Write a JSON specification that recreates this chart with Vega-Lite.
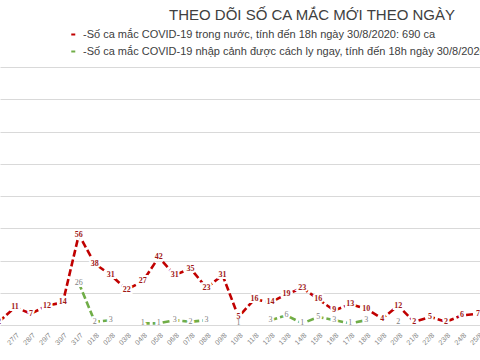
{
  "$schema": "https://vega.github.io/schema/vega-lite/v6.json",
  "width": 480,
  "height": 258,
  "autosize": {"type": "none"},
  "padding": {"left": 0, "top": 67, "right": 0, "bottom": 35},
  "background": "white",
  "title": {
    "text": "THEO DÕI SỐ CA MẮC MỚI THEO NGÀY",
    "anchor": "middle",
    "frame": "group",
    "dx": 72,
    "offset": 6,
    "font": "Liberation Sans",
    "fontSize": 15,
    "fontWeight": "normal",
    "color": "#404040"
  },
  "config": {
    "view": {"stroke": null},
    "font": "Liberation Sans"
  },
  "data": {
    "values": [
      {"date": "2020-07-26", "series": "-Số ca mắc COVID-19 trong nước, tính đến 18h ngày 30/8/2020: 690 ca", "cases": 2},
      {"date": "2020-07-27", "series": "-Số ca mắc COVID-19 trong nước, tính đến 18h ngày 30/8/2020: 690 ca", "cases": 11},
      {"date": "2020-07-28", "series": "-Số ca mắc COVID-19 trong nước, tính đến 18h ngày 30/8/2020: 690 ca", "cases": 7},
      {"date": "2020-07-29", "series": "-Số ca mắc COVID-19 trong nước, tính đến 18h ngày 30/8/2020: 690 ca", "cases": 12},
      {"date": "2020-07-30", "series": "-Số ca mắc COVID-19 trong nước, tính đến 18h ngày 30/8/2020: 690 ca", "cases": 14},
      {"date": "2020-07-31", "series": "-Số ca mắc COVID-19 trong nước, tính đến 18h ngày 30/8/2020: 690 ca", "cases": 56},
      {"date": "2020-08-01", "series": "-Số ca mắc COVID-19 trong nước, tính đến 18h ngày 30/8/2020: 690 ca", "cases": 38},
      {"date": "2020-08-02", "series": "-Số ca mắc COVID-19 trong nước, tính đến 18h ngày 30/8/2020: 690 ca", "cases": 31},
      {"date": "2020-08-03", "series": "-Số ca mắc COVID-19 trong nước, tính đến 18h ngày 30/8/2020: 690 ca", "cases": 22},
      {"date": "2020-08-04", "series": "-Số ca mắc COVID-19 trong nước, tính đến 18h ngày 30/8/2020: 690 ca", "cases": 27},
      {"date": "2020-08-05", "series": "-Số ca mắc COVID-19 trong nước, tính đến 18h ngày 30/8/2020: 690 ca", "cases": 42},
      {"date": "2020-08-06", "series": "-Số ca mắc COVID-19 trong nước, tính đến 18h ngày 30/8/2020: 690 ca", "cases": 31},
      {"date": "2020-08-07", "series": "-Số ca mắc COVID-19 trong nước, tính đến 18h ngày 30/8/2020: 690 ca", "cases": 35},
      {"date": "2020-08-08", "series": "-Số ca mắc COVID-19 trong nước, tính đến 18h ngày 30/8/2020: 690 ca", "cases": 23},
      {"date": "2020-08-09", "series": "-Số ca mắc COVID-19 trong nước, tính đến 18h ngày 30/8/2020: 690 ca", "cases": 31},
      {"date": "2020-08-10", "series": "-Số ca mắc COVID-19 trong nước, tính đến 18h ngày 30/8/2020: 690 ca", "cases": 5},
      {"date": "2020-08-11", "series": "-Số ca mắc COVID-19 trong nước, tính đến 18h ngày 30/8/2020: 690 ca", "cases": 16},
      {"date": "2020-08-12", "series": "-Số ca mắc COVID-19 trong nước, tính đến 18h ngày 30/8/2020: 690 ca", "cases": 14},
      {"date": "2020-08-13", "series": "-Số ca mắc COVID-19 trong nước, tính đến 18h ngày 30/8/2020: 690 ca", "cases": 19},
      {"date": "2020-08-14", "series": "-Số ca mắc COVID-19 trong nước, tính đến 18h ngày 30/8/2020: 690 ca", "cases": 23},
      {"date": "2020-08-15", "series": "-Số ca mắc COVID-19 trong nước, tính đến 18h ngày 30/8/2020: 690 ca", "cases": 16},
      {"date": "2020-08-16", "series": "-Số ca mắc COVID-19 trong nước, tính đến 18h ngày 30/8/2020: 690 ca", "cases": 9},
      {"date": "2020-08-17", "series": "-Số ca mắc COVID-19 trong nước, tính đến 18h ngày 30/8/2020: 690 ca", "cases": 13},
      {"date": "2020-08-18", "series": "-Số ca mắc COVID-19 trong nước, tính đến 18h ngày 30/8/2020: 690 ca", "cases": 10},
      {"date": "2020-08-19", "series": "-Số ca mắc COVID-19 trong nước, tính đến 18h ngày 30/8/2020: 690 ca", "cases": 4},
      {"date": "2020-08-20", "series": "-Số ca mắc COVID-19 trong nước, tính đến 18h ngày 30/8/2020: 690 ca", "cases": 12},
      {"date": "2020-08-21", "series": "-Số ca mắc COVID-19 trong nước, tính đến 18h ngày 30/8/2020: 690 ca", "cases": 2},
      {"date": "2020-08-22", "series": "-Số ca mắc COVID-19 trong nước, tính đến 18h ngày 30/8/2020: 690 ca", "cases": 5},
      {"date": "2020-08-23", "series": "-Số ca mắc COVID-19 trong nước, tính đến 18h ngày 30/8/2020: 690 ca", "cases": 2},
      {"date": "2020-08-24", "series": "-Số ca mắc COVID-19 trong nước, tính đến 18h ngày 30/8/2020: 690 ca", "cases": 6},
      {"date": "2020-08-25", "series": "-Số ca mắc COVID-19 trong nước, tính đến 18h ngày 30/8/2020: 690 ca", "cases": 7},
      {"date": "2020-07-31", "series": "-Số ca mắc COVID-19 nhập cảnh được cách ly ngay, tính đến 18h ngày 30/8/2020", "cases": 26},
      {"date": "2020-08-01", "series": "-Số ca mắc COVID-19 nhập cảnh được cách ly ngay, tính đến 18h ngày 30/8/2020", "cases": 2},
      {"date": "2020-08-02", "series": "-Số ca mắc COVID-19 nhập cảnh được cách ly ngay, tính đến 18h ngày 30/8/2020", "cases": 3},
      {"date": "2020-08-03", "series": "-Số ca mắc COVID-19 nhập cảnh được cách ly ngay, tính đến 18h ngày 30/8/2020", "cases": null},
      {"date": "2020-08-04", "series": "-Số ca mắc COVID-19 nhập cảnh được cách ly ngay, tính đến 18h ngày 30/8/2020", "cases": 1},
      {"date": "2020-08-05", "series": "-Số ca mắc COVID-19 nhập cảnh được cách ly ngay, tính đến 18h ngày 30/8/2020", "cases": 1},
      {"date": "2020-08-06", "series": "-Số ca mắc COVID-19 nhập cảnh được cách ly ngay, tính đến 18h ngày 30/8/2020", "cases": 3},
      {"date": "2020-08-07", "series": "-Số ca mắc COVID-19 nhập cảnh được cách ly ngay, tính đến 18h ngày 30/8/2020", "cases": 2},
      {"date": "2020-08-08", "series": "-Số ca mắc COVID-19 nhập cảnh được cách ly ngay, tính đến 18h ngày 30/8/2020", "cases": 3},
      {"date": "2020-08-09", "series": "-Số ca mắc COVID-19 nhập cảnh được cách ly ngay, tính đến 18h ngày 30/8/2020", "cases": null},
      {"date": "2020-08-10", "series": "-Số ca mắc COVID-19 nhập cảnh được cách ly ngay, tính đến 18h ngày 30/8/2020", "cases": 1},
      {"date": "2020-08-11", "series": "-Số ca mắc COVID-19 nhập cảnh được cách ly ngay, tính đến 18h ngày 30/8/2020", "cases": null},
      {"date": "2020-08-12", "series": "-Số ca mắc COVID-19 nhập cảnh được cách ly ngay, tính đến 18h ngày 30/8/2020", "cases": 3},
      {"date": "2020-08-13", "series": "-Số ca mắc COVID-19 nhập cảnh được cách ly ngay, tính đến 18h ngày 30/8/2020", "cases": 6},
      {"date": "2020-08-14", "series": "-Số ca mắc COVID-19 nhập cảnh được cách ly ngay, tính đến 18h ngày 30/8/2020", "cases": 1},
      {"date": "2020-08-15", "series": "-Số ca mắc COVID-19 nhập cảnh được cách ly ngay, tính đến 18h ngày 30/8/2020", "cases": 5},
      {"date": "2020-08-16", "series": "-Số ca mắc COVID-19 nhập cảnh được cách ly ngay, tính đến 18h ngày 30/8/2020", "cases": 3},
      {"date": "2020-08-17", "series": "-Số ca mắc COVID-19 nhập cảnh được cách ly ngay, tính đến 18h ngày 30/8/2020", "cases": 1},
      {"date": "2020-08-18", "series": "-Số ca mắc COVID-19 nhập cảnh được cách ly ngay, tính đến 18h ngày 30/8/2020", "cases": 3},
      {"date": "2020-08-19", "series": "-Số ca mắc COVID-19 nhập cảnh được cách ly ngay, tính đến 18h ngày 30/8/2020", "cases": null},
      {"date": "2020-08-20", "series": "-Số ca mắc COVID-19 nhập cảnh được cách ly ngay, tính đến 18h ngày 30/8/2020", "cases": 2}
    ]
  },
  "encoding": {
    "x": {
      "field": "date",
      "type": "temporal",
      "scale": {
        "type": "utc",
        "domain": [
          {"year": 2020, "month": 7, "date": 26, "hours": 1, "minutes": 30, "utc": true},
          {"year": 2020, "month": 8, "date": 25, "hours": 3, "utc": true}
        ]
      },
      "axis": {
        "title": null,
        "domain": false,
        "ticks": false,
        "grid": false,
        "tickCount": {"interval": "day", "step": 1},
        "labelExpr": "utcFormat(datum.value, '%d/%-m')",
        "labelAngle": -45,
        "labelFontSize": 7,
        "labelColor": "#7f7f7f",
        "labelPadding": 6,
        "labelOverlap": false,
        "labelFlush": false,
        "labelBound": false
      }
    },
    "y": {
      "field": "cases",
      "type": "quantitative",
      "scale": {"domain": [0, 160], "nice": false, "zero": true},
      "axis": {
        "title": null,
        "domain": false,
        "ticks": false,
        "labels": false,
        "grid": true,
        "gridColor": "#d9d9d9",
        "gridWidth": 1,
        "values": [0, 20, 40, 60, 80, 100, 120, 140, 160]
      }
    }
  },
  "layer": [
    {
      "mark": {"type": "line", "strokeWidth": 2.6, "strokeDash": [7, 3], "invalid": "break-paths-show-domains", "clip": true},
      "encoding": {
        "color": {
          "field": "series",
          "type": "nominal",
          "scale": {
            "domain": [
              "-Số ca mắc COVID-19 trong nước, tính đến 18h ngày 30/8/2020: 690 ca",
              "-Số ca mắc COVID-19 nhập cảnh được cách ly ngay, tính đến 18h ngày 30/8/2020"
            ],
            "range": ["#c00000", "#70ad47"]
          },
          "legend": {
            "title": null,
            "orient": "none",
            "legendX": 68,
            "legendY": -38,
            "symbolType": "stroke",
            "symbolSize": 20,
            "symbolStrokeWidth": 2,
            "symbolDash": [4, 2],
            "labelFontSize": 11,
            "labelColor": "#404040",
            "labelLimit": 1000,
            "labelOffset": 4,
            "rowPadding": 5,
            "padding": 0
          }
        }
      }
    },
    {
      "mark": {"type": "text", "fontSize": 8, "font": "Liberation Serif", "fontWeight": "bold", "stroke": "white", "strokeWidth": 4, "clip": true},
      "encoding": {"text": {"field": "cases", "type": "quantitative"}}
    },
    {
      "transform": [{"filter": "indexof(datum.series, 'trong nước') >= 0"}],
      "mark": {"type": "text", "fontSize": 8, "font": "Liberation Serif", "fontWeight": "bold", "color": "#a01818", "clip": true},
      "encoding": {"text": {"field": "cases", "type": "quantitative"}}
    },
    {
      "transform": [{"filter": "indexof(datum.series, 'nhập cảnh') >= 0"}],
      "mark": {"type": "text", "fontSize": 8, "font": "Liberation Serif", "color": "#7f7f7f", "clip": true},
      "encoding": {"text": {"field": "cases", "type": "quantitative"}}
    }
  ]
}
